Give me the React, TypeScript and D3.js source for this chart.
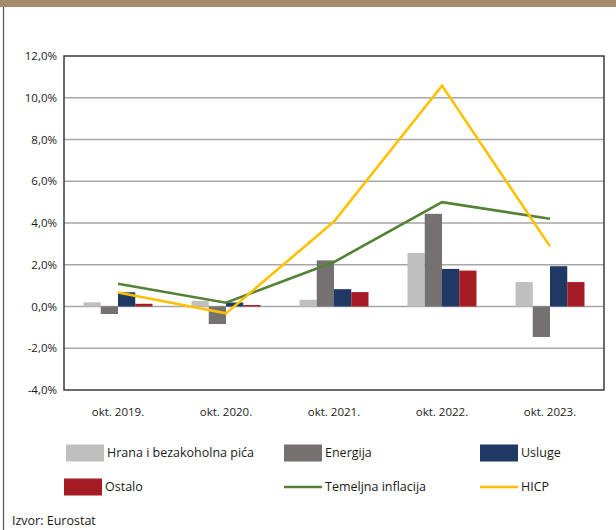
import React, { useEffect, useRef } from 'react';
import * as d3 from 'd3';

// chart data (% yoy)
const categories = ['okt. 2019.', 'okt. 2020.', 'okt. 2021.', 'okt. 2022.', 'okt. 2023.'];
const hrana = [0.2, 0.27, 0.32, 2.57, 1.17];
const energija = [-0.36, -0.84, 2.21, 4.44, -1.46];
const usluge = [0.68, 0.19, 0.83, 1.8, 1.93];
const ostalo = [0.13, 0.07, 0.69, 1.72, 1.17];
const temeljna = [1.09, 0.18, 2.13, 5.0, 4.2];
const hicp = [0.67, -0.33, 4.07, 10.58, 2.88];
const yTicks = [-4, -2, 0, 2, 4, 6, 8, 10, 12];

const barSeries = [
  { name: 'Hrana i bezakoholna pića', values: hrana, color: '#bfbfbf' },
  { name: 'Energija', values: energija, color: '#767171' },
  { name: 'Usluge', values: usluge, color: '#1f3864' },
  { name: 'Ostalo', values: ostalo, color: '#a51c24' },
];
const lineSeries = [
  { name: 'Temeljna inflacija', values: temeljna, color: '#548235' },
  { name: 'HICP', values: hicp, color: '#ffc000' },
];

const FONT = '"Open Sans", "Noto Sans", sans-serif';

export default function App() {
  const ref = useRef<SVGSVGElement>(null);

  useEffect(() => {
    const svg = d3.select(ref.current);
    svg.selectAll('*').remove();

    const plot = { left: 64, right: 604, top: 56, bottom: 390 };

    // top band + left border
    svg.append('rect').attr('x', 0).attr('y', 0).attr('width', 616).attr('height', 7).attr('fill', '#a68b6d');
    svg.append('line').attr('x1', 3.5).attr('x2', 3.5).attr('y1', 7).attr('y2', 530)
      .attr('stroke', '#555').attr('stroke-width', 1.2);

    const y = d3.scaleLinear().domain([-4, 12]).range([plot.bottom, plot.top]);
    const pad = 39 / 108;
    const x = d3.scaleBand().domain(categories).range([plot.left, plot.right])
      .paddingInner(pad).paddingOuter(pad / 2);
    const xs = d3.scaleBand().domain(barSeries.map(s => s.name)).range([0, x.bandwidth()]);

    // gridlines
    svg.append('g').selectAll('line').data(yTicks.slice(1, -1)).enter().append('line')
      .attr('x1', plot.left).attr('x2', plot.right)
      .attr('y1', d => y(d)).attr('y2', d => y(d))
      .attr('stroke', '#a6a6a6').attr('stroke-width', 1.5);

    // y tick labels
    svg.append('g').selectAll('text').data(yTicks).enter().append('text')
      .attr('x', 57).attr('y', d => y(d)).attr('dy', '0.35em')
      .attr('text-anchor', 'end').attr('font-family', FONT).attr('font-size', 11.5).attr('fill', '#1a1a1a')
      .text(d => d3.format('.1f')(d).replace('.', ',').replace('−', '-') + '%');

    // bars
    barSeries.forEach(s => {
      svg.append('g').selectAll('rect').data(s.values).enter().append('rect')
        .attr('x', (d, i) => (x(categories[i]) as number) + (xs(s.name) as number))
        .attr('width', xs.bandwidth())
        .attr('y', d => y(Math.max(0, d)))
        .attr('height', d => Math.abs(y(d) - y(0)))
        .attr('fill', s.color);
    });

    // lines
    const line = d3.line<number>()
      .x((d, i) => (x(categories[i]) as number) + x.bandwidth() / 2)
      .y(d => y(d));
    lineSeries.forEach(s => {
      svg.append('path').datum(s.values).attr('d', line)
        .attr('fill', 'none').attr('stroke', s.color).attr('stroke-width', 2.6);
    });

    // plot frame
    svg.append('rect').attr('x', plot.left).attr('y', plot.top)
      .attr('width', plot.right - plot.left).attr('height', plot.bottom - plot.top)
      .attr('fill', 'none').attr('stroke', '#3a3a3a').attr('stroke-width', 1.5);

    // x labels
    svg.append('g').selectAll('text').data(categories).enter().append('text')
      .attr('x', d => (x(d) as number) + x.bandwidth() / 2).attr('y', 412).attr('dy', '0.35em')
      .attr('text-anchor', 'middle').attr('font-family', FONT).attr('font-size', 11.5).attr('fill', '#1a1a1a')
      .text(d => d);

    // legend
    const legendItems = [
      { ...barSeries[0], type: 'bar', lx: 66, ly: 453 },
      { ...barSeries[1], type: 'bar', lx: 284, ly: 453 },
      { ...barSeries[2], type: 'bar', lx: 480, ly: 453 },
      { ...barSeries[3], type: 'bar', lx: 64, ly: 487 },
      { ...lineSeries[0], type: 'line', lx: 284, ly: 487 },
      { ...lineSeries[1], type: 'line', lx: 480, ly: 487 },
    ];
    const lg = svg.append('g').selectAll('g').data(legendItems).enter().append('g')
      .attr('transform', d => 'translate(' + d.lx + ',' + d.ly + ')');
    lg.filter(d => d.type === 'bar').append('rect')
      .attr('x', 0).attr('y', -8.5).attr('width', 38).attr('height', 17).attr('fill', d => d.color);
    lg.filter(d => d.type === 'line').append('line')
      .attr('x1', 0).attr('x2', 38).attr('y1', 0).attr('y2', 0)
      .attr('stroke', d => d.color).attr('stroke-width', 2.6);
    lg.append('text').attr('x', 41).attr('y', 0).attr('dy', '0.35em')
      .attr('font-family', FONT).attr('font-size', 12.5).attr('fill', '#1a1a1a')
      .text(d => d.name);

    svg.append('text').attr('x', 12).attr('y', 521).attr('dy', '0.35em')
      .attr('font-family', FONT).attr('font-size', 12.5).attr('fill', '#1a1a1a')
      .text('Izvor: Eurostat');
  }, []);

  return (
    <svg ref={ref} width={616} height={530}
      style={{ position: 'absolute', left: 0, top: 0, background: '#fff' }} />
  );
}
